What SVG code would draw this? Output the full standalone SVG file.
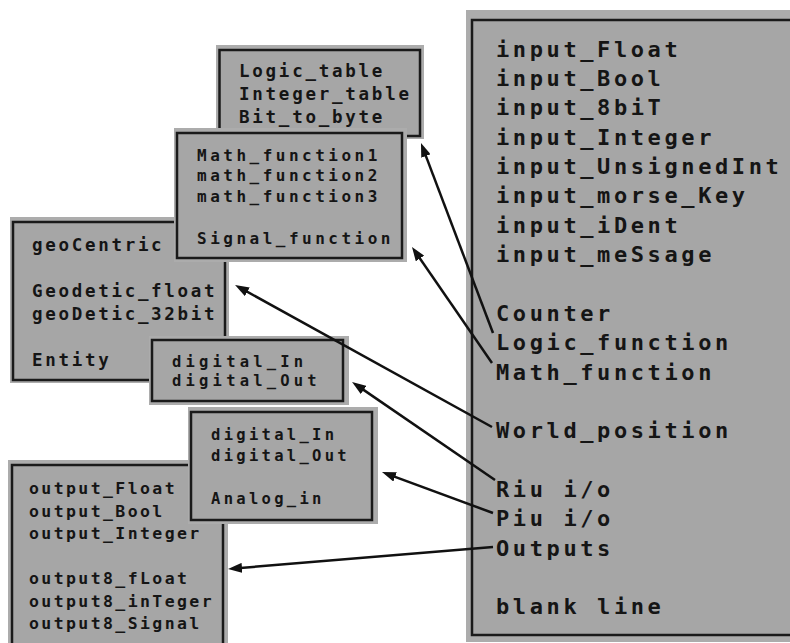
<svg xmlns="http://www.w3.org/2000/svg" width="790" height="643" viewBox="0 0 790 643">
<style>
.halo{fill:#acacac}
.box{fill:#a6a6a6;stroke:#1a1a1a;stroke-width:2.5}
text{font-family:"DejaVu Sans Mono","Liberation Mono",monospace;font-weight:bold;fill:#151515}
.big{font-size:22px;letter-spacing:3.6px}
.a{font-size:17.5px;letter-spacing:2.75px}
.b{font-size:16px;letter-spacing:3.5px}
.c{font-size:17.5px;letter-spacing:2.7px}
.d{font-size:15.5px;letter-spacing:4.2px}
.e{font-size:15.5px;letter-spacing:3.3px}
.f{font-size:16.5px;letter-spacing:2.4px}
.conn{stroke:#111;stroke-width:2.5;fill:none;marker-end:url(#ah)}
</style>
<defs>
<marker id="ah" markerUnits="userSpaceOnUse" markerWidth="14" markerHeight="10" refX="8" refY="5" orient="auto">
<path d="M0,0 L14,5 L0,10 z" fill="#111"/>
</marker>
</defs>
<rect width="790" height="643" fill="#fff"/>

<g id="right-box">
<rect class="halo" x="466" y="10" width="330" height="632"/>
<rect class="box" x="472" y="20" width="330" height="615"/>
<text class="big" x="496" y="56.5">input_Float</text>
<text class="big" x="496" y="86">input_Bool</text>
<text class="big" x="496" y="115">input_8biT</text>
<text class="big" x="496" y="144.5">input_Integer</text>
<text class="big" x="496" y="174">input_UnsignedInt</text>
<text class="big" x="496" y="203">input_morse_Key</text>
<text class="big" x="496" y="232.5">input_iDent</text>
<text class="big" x="496" y="262">input_meSsage</text>
<text class="big" x="496" y="320.5">Counter</text>
<text class="big" x="496" y="350">Logic_function</text>
<text class="big" x="496" y="379.5">Math_function</text>
<text class="big" x="496" y="438">World_position</text>
<text class="big" x="496" y="496.5">Riu i/o</text>
<text class="big" x="496" y="526">Piu i/o</text>
<text class="big" x="496" y="555.5">Outputs</text>
<text class="big" x="496" y="614">blank line</text>
</g>

<g id="logic-box">
<rect class="halo" x="216" y="45" width="208" height="94"/>
<rect class="box" x="219.5" y="50" width="200.5" height="86"/>
<text class="a" x="239" y="76.5">Logic_table</text>
<text class="a" x="239" y="99.5">Integer_table</text>
<text class="a" x="239" y="122.5">Bit_to_byte</text>
</g>

<g id="geo-box">
<rect class="halo" x="10" y="217" width="219" height="166"/>
<rect class="box" x="13" y="222" width="212" height="158"/>
<text class="c" x="32" y="250.5">geoCentric</text>
<text class="c" x="32" y="296.5">Geodetic_float</text>
<text class="c" x="32" y="319.5">geoDetic_32bit</text>
<text class="c" x="32" y="365.5">Entity</text>
</g>

<g id="math-box">
<rect class="halo" x="174" y="128" width="233" height="134"/>
<rect class="box" x="177" y="133" width="225" height="125"/>
<text class="b" x="197" y="160.5">Math_function1</text>
<text class="b" x="197" y="181">math_function2</text>
<text class="b" x="197" y="202">math_function3</text>
<text class="b" x="197" y="243.5">Signal_function</text>
</g>

<g id="riu-box">
<rect class="halo" x="149" y="336" width="200" height="69"/>
<rect class="box" x="152" y="340" width="191" height="61"/>
<text class="d" x="172" y="366.5">digital_In</text>
<text class="d" x="172" y="386">digital_Out</text>
</g>

<g id="outputs-box">
<rect class="halo" x="8" y="460" width="220" height="190"/>
<rect class="box" x="12" y="465" width="211" height="190"/>
<text class="f" x="29" y="494">output_Float</text>
<text class="f" x="29" y="516.5">output_Bool</text>
<text class="f" x="29" y="539">output_Integer</text>
<text class="f" x="29" y="584">output8_fLoat</text>
<text class="f" x="29" y="606.5">output8_inTeger</text>
<text class="f" x="29" y="629">output8_Signal</text>
</g>

<g id="piu-box">
<rect class="halo" x="188" y="407" width="190" height="117"/>
<rect class="box" x="191" y="412" width="181" height="108"/>
<text class="e" x="211" y="439.5">digital_In</text>
<text class="e" x="211" y="461">digital_Out</text>
<text class="e" x="211" y="504">Analog_in</text>
</g>

<g id="connectors">
<line class="conn" x1="493" y1="333" x2="423.1" y2="148.6"/>
<line class="conn" x1="492" y1="363" x2="415.4" y2="251.9"/>
<line class="conn" x1="492" y1="427" x2="240.3" y2="287.9"/>
<line class="conn" x1="495" y1="480" x2="357" y2="385.4"/>
<line class="conn" x1="493" y1="513" x2="387.6" y2="474.1"/>
<line class="conn" x1="493" y1="547" x2="234" y2="568.5"/>
</g>
</svg>
